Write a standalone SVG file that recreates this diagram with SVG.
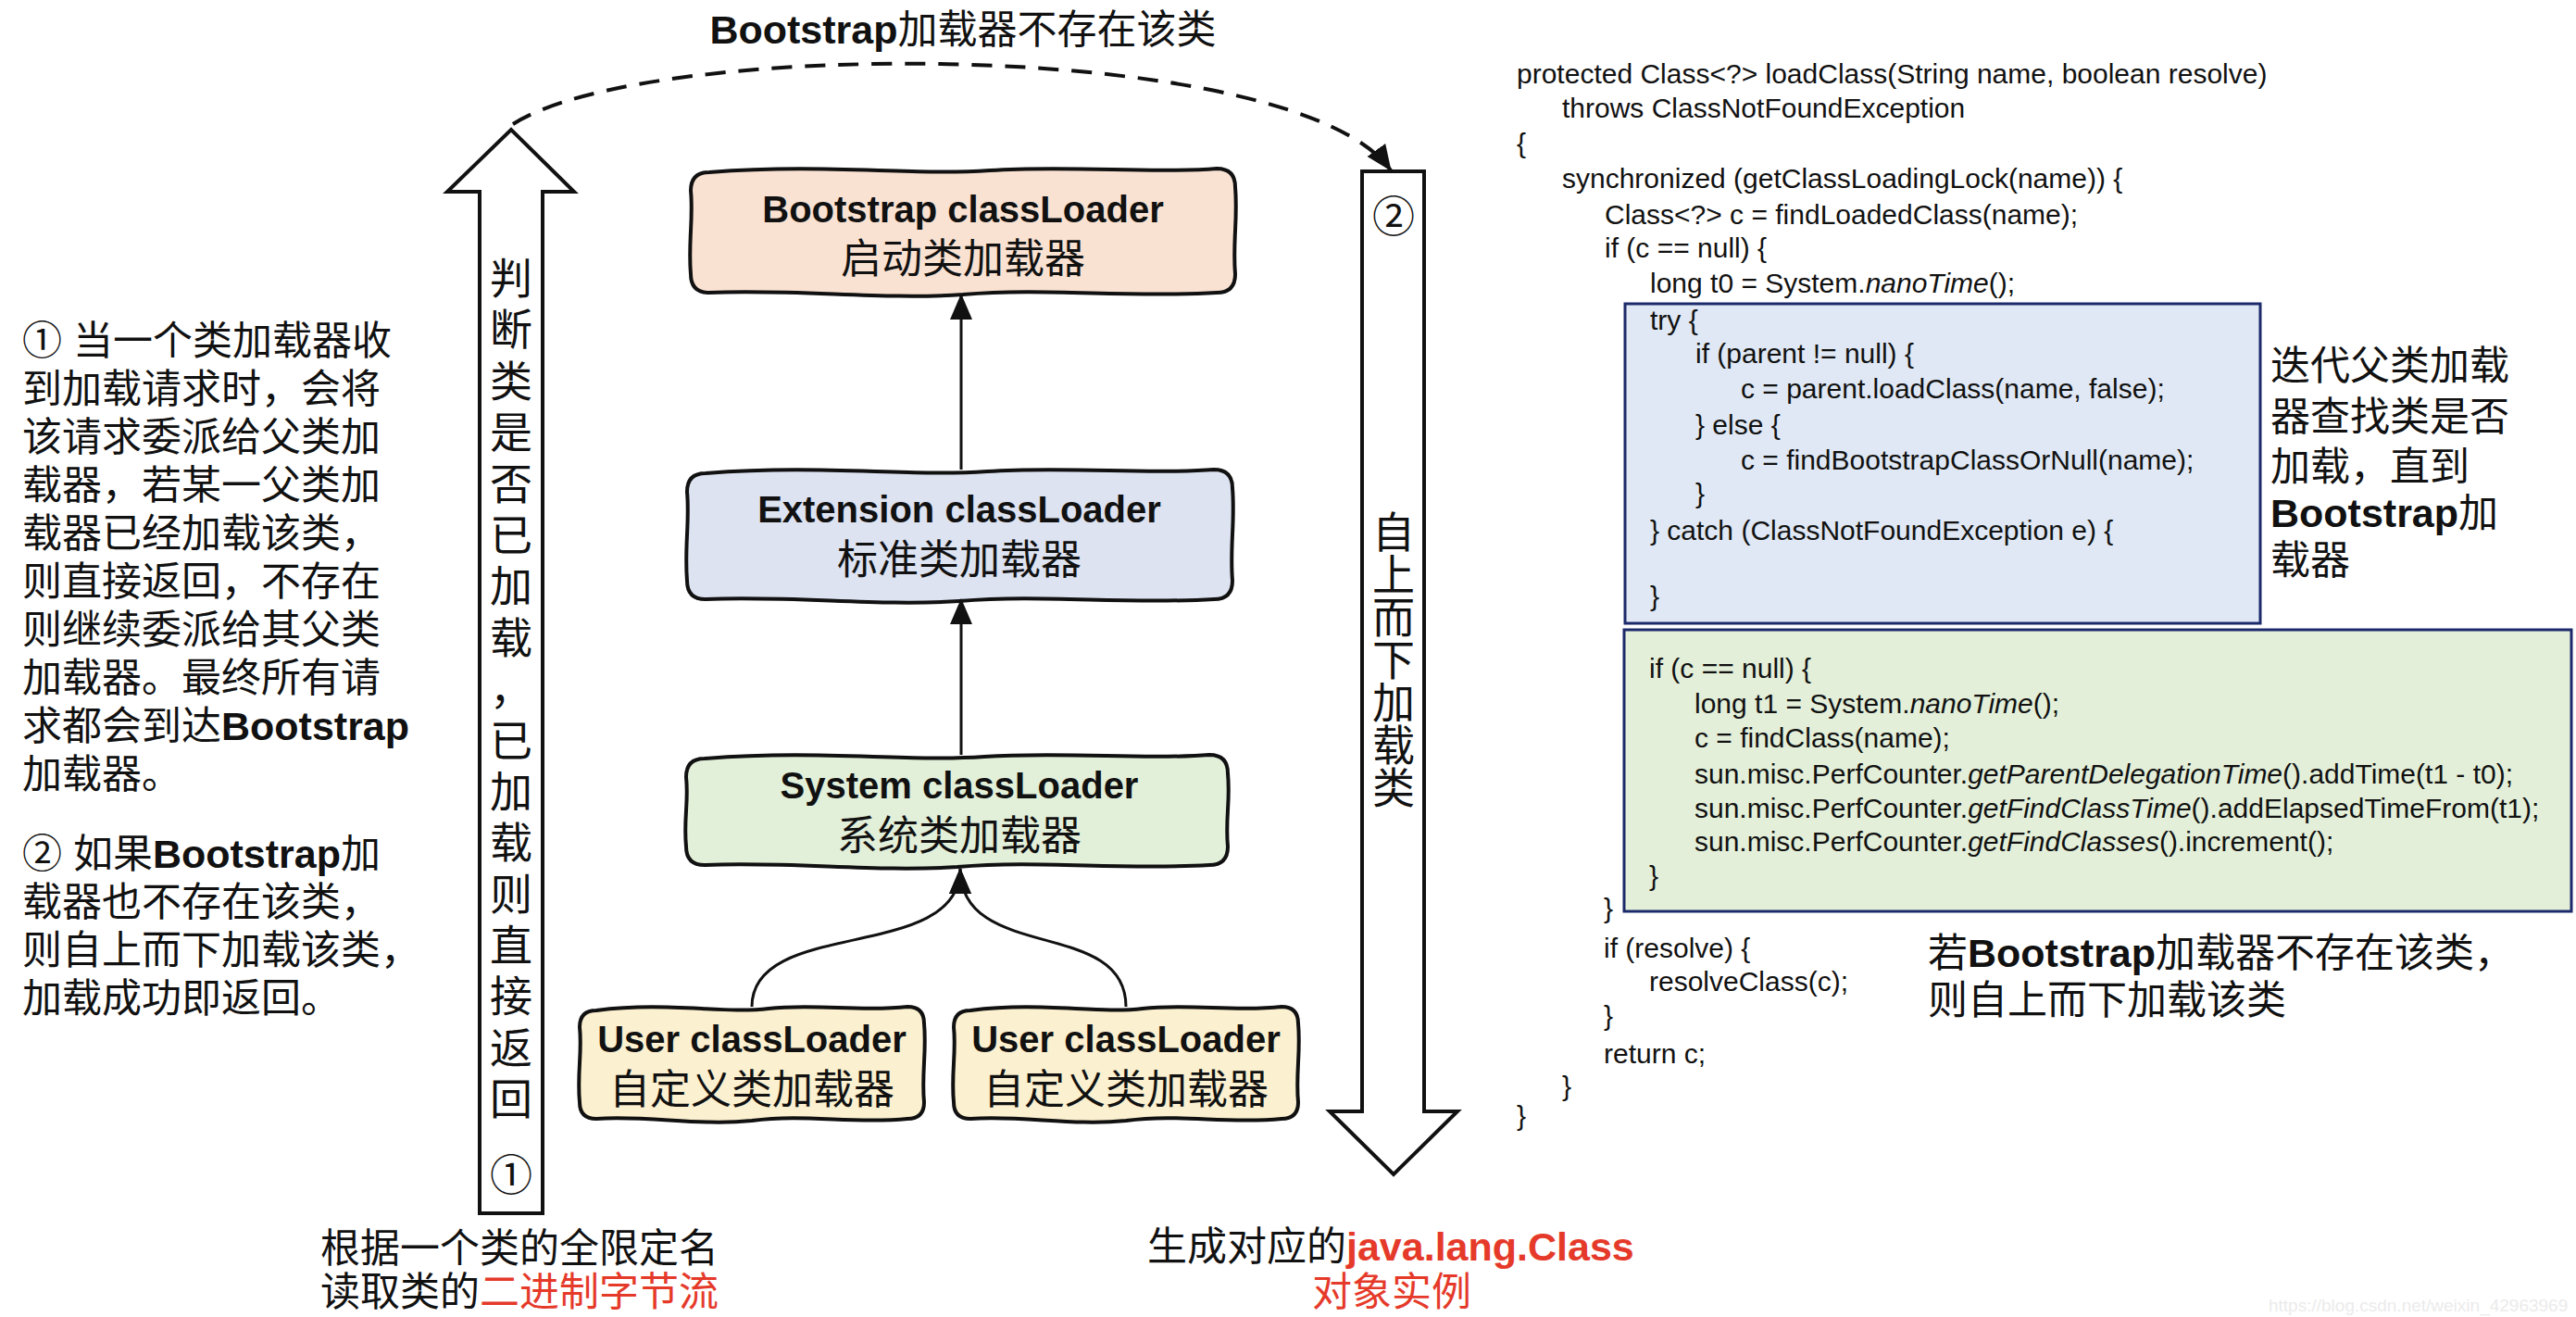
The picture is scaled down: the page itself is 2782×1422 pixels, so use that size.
<svg xmlns="http://www.w3.org/2000/svg" width="2782" height="1422" viewBox="0 0 2782 1422">
<defs>
<style>
.bg{fill:#ffffff}
.node{stroke:#111;stroke-width:4;stroke-linejoin:round}
.lbl{fill:#111;text-anchor:middle}
.en{font-family:"Liberation Sans","Noto Sans CJK SC",sans-serif;font-weight:bold;font-size:40px}
.cnl{font-family:"Noto Sans CJK SC",sans-serif;font-weight:normal;font-size:44px}
.para{font-family:"Liberation Sans","Noto Sans CJK SC",sans-serif;font-size:43px;fill:#111}
.b{font-family:"Liberation Sans",sans-serif;font-weight:bold}
.code{font-family:"Liberation Sans",sans-serif;font-size:30px;fill:#111}
.it{font-style:italic}
.red{fill:#e53a2a}
.big{fill:#fff;stroke:#111;stroke-width:4;stroke-linejoin:miter}
.vcol{font-family:"Noto Sans CJK SC",sans-serif;font-size:46px;fill:#111;text-anchor:middle}
.box{stroke:#1c2a6b;stroke-width:3}
</style>
<marker id="ah" markerUnits="userSpaceOnUse" markerWidth="28" markerHeight="24" viewBox="0 0 28 24" refX="27" refY="12" orient="auto">
<path d="M0,0 L28,12 L0,24 z" fill="#111"/>
</marker>
</defs>
<rect class="bg" x="0" y="0" width="2782" height="1422"/>

<!-- title -->
<text x="1040" y="47" class="para" text-anchor="middle" font-size="42"><tspan class="b">Bootstrap</tspan>加载器不存在该类</text>

<!-- left paragraph -->
<g id="left-notes" class="para">
<text x="24" y="383">① 当一个类加载器收</text>
<text x="24" y="435">到加载请求时，会将</text>
<text x="24" y="487">该请求委派给父类加</text>
<text x="24" y="539">载器，若某一父类加</text>
<text x="24" y="591">载器已经加载该类，</text>
<text x="24" y="643">则直接返回，不存在</text>
<text x="24" y="695">则继续委派给其父类</text>
<text x="24" y="747">加载器。最终所有请</text>
<text x="24" y="799">求都会到达<tspan class="b">Bootstrap</tspan></text>
<text x="24" y="851">加载器。</text>
<text x="24" y="937">② 如果<tspan class="b">Bootstrap</tspan>加</text>
<text x="24" y="989">载器也不存在该类，</text>
<text x="24" y="1041">则自上而下加载该类，</text>
<text x="24" y="1093">加载成功即返回。</text>
</g>

<!-- big hollow up arrow -->
<g id="arrow-up">
<polygon class="big" points="518,1310 518,207 483,207 552,140 620,207 586,207 586,1310"/>
<text class="vcol" x="552 552 552 552 552 552 552 552 552 552 552 552 552 552 552 552 552" y="317 372 428 483 539 594 649 705 760 816 871 926 982 1037 1092 1148 1203">判断类是否已加载，已加载则直接返回</text>
<text class="vcol" x="552" y="1285">①</text>
</g>

<!-- big hollow down arrow -->
<g id="arrow-down">
<polygon class="big" points="1471,185 1538,185 1538,1200 1574,1200 1505,1268 1436,1200 1471,1200"/>
<text class="vcol" x="1505" y="250" font-size="44">②</text>
<text class="vcol" font-size="44" x="1505 1505 1505 1505 1505 1505 1505" y="591 637 683 729 775 821 867">自上而下加载类</text>
</g>

<!-- nodes -->
<g id="node-bootstrap">
<path class="node" fill="#f9e2d2" d="M766,186 C893,176 981,190 1069,184 C1157,178 1246,188 1314,182 Q1334,182 1334,202 C1337,236 1331,262 1334,296 Q1334,316 1314,316 C1216,322 1128,310 1040,318 C952,324 864,312 766,316 Q746,316 746,296 C743,262 749,236 746,206 Q746,186 766,186 Z"/>
<text class="lbl"><tspan class="en" x="1040" y="240">Bootstrap classLoader</tspan><tspan class="cnl" x="1040" y="295">启动类加载器</tspan></text>
</g>
<g id="node-extension">
<path class="node" fill="#dde3f1" d="M762,511 C889,501 977,515 1066,509 C1154,503 1243,513 1311,507 Q1331,507 1331,527 C1334,563 1328,591 1331,627 Q1331,647 1311,647 C1213,653 1125,641 1036,649 C948,655 860,643 762,647 Q742,647 742,627 C739,591 745,563 742,531 Q742,511 762,511 Z"/>
<text class="lbl"><tspan class="en" x="1036" y="564">Extension classLoader</tspan><tspan class="cnl" x="1036" y="620">标准类加载器</tspan></text>
</g>
<g id="node-system">
<path class="node" fill="#e2efd9" d="M761,819 C887,809 975,823 1063,817 C1151,811 1239,821 1306,815 Q1326,815 1326,835 C1329,866 1323,884 1326,914 Q1326,934 1306,934 C1209,940 1121,928 1034,936 C946,942 858,930 761,934 Q741,934 741,914 C738,884 744,866 741,839 Q741,819 761,819 Z"/>
<text class="lbl"><tspan class="en" x="1036" y="862">System classLoader</tspan><tspan class="cnl" x="1036" y="918">系统类加载器</tspan></text>
</g>
<g id="node-user1">
<path class="node" fill="#fbf0cf" d="M644,1091 C720,1081 780,1095 830,1089 C880,1083 930,1093 980,1087 Q998,1087 998,1105 C1001,1135 995,1160 998,1190 Q998,1208 980,1208 C920,1214 870,1202 812,1210 C754,1216 700,1204 644,1208 Q626,1208 626,1190 C623,1160 629,1135 626,1109 Q626,1091 644,1091 Z"/>
<text class="lbl"><tspan class="en" x="812" y="1136">User classLoader</tspan><tspan class="cnl" x="812" y="1192">自定义类加载器</tspan></text>
</g>
<g id="node-user2">
<path class="node" fill="#fbf0cf" d="M1048,1091 C1124,1081 1184,1095 1234,1089 C1284,1083 1334,1093 1384,1087 Q1402,1087 1402,1105 C1405,1135 1399,1160 1402,1190 Q1402,1208 1384,1208 C1324,1214 1274,1202 1216,1210 C1158,1216 1104,1204 1048,1208 Q1030,1208 1030,1190 C1027,1160 1033,1135 1030,1109 Q1030,1091 1048,1091 Z"/>
<text class="lbl"><tspan class="en" x="1216" y="1136">User classLoader</tspan><tspan class="cnl" x="1216" y="1192">自定义类加载器</tspan></text>
</g>

<!-- connectors -->
<g id="connectors" fill="none" stroke="#111" stroke-width="3">
<path d="M1038,507 L1038,318" marker-end="url(#ah)"/>
<path d="M1038,815 L1038,647" marker-end="url(#ah)"/>
<path d="M812,1087 C812,990 1037,1040 1037,938" marker-end="url(#ah)"/>
<path d="M1216,1087 C1216,990 1037,1040 1037,938" marker-end="url(#ah)"/>
<path d="M554,134 C700,40 1400,40 1502,184" stroke-width="4" stroke-dasharray="22 14" marker-end="url(#ah)"/>
</g>

<!-- bottom captions -->
<g id="caption-left" class="para" font-size="42">
<text x="346" y="1363">根据一个类的全限定名</text>
<text x="346" y="1410">读取类的<tspan class="red">二进制字节流</tspan></text>
</g>
<g id="caption-right" class="para" font-size="42">
<text x="1239" y="1361">生成对应的<tspan class="b red" font-size="43">java.lang.Class</tspan></text>
<text x="1417" y="1410" class="red">对象实例</text>
</g>

<!-- code -->
<g id="code-highlights">
<rect class="box" x="1755" y="328" width="686" height="345" fill="#dfe8f4"/>
<rect class="box" x="1754" y="680" width="1023" height="304" fill="#e3efd9"/>
</g>
<g id="code" class="code">
<text x="1638" y="90">protected Class&lt;?&gt; loadClass(String name, boolean resolve)</text>
<text x="1687" y="127">throws ClassNotFoundException</text>
<text x="1638" y="165">{</text>
<text x="1687" y="203">synchronized (getClassLoadingLock(name)) {</text>
<text x="1733" y="242">Class&lt;?&gt; c = findLoadedClass(name);</text>
<text x="1733" y="278">if (c == null) {</text>
<text x="1782" y="316">long t0 = System.<tspan class="it">nanoTime</tspan>();</text>
<text x="1782" y="356">try {</text>
<text x="1831" y="392">if (parent != null) {</text>
<text x="1880" y="430">c = parent.loadClass(name, false);</text>
<text x="1831" y="469">} else {</text>
<text x="1880" y="507">c = findBootstrapClassOrNull(name);</text>
<text x="1831" y="543">}</text>
<text x="1782" y="583">} catch (ClassNotFoundException e) {</text>
<text x="1782" y="654">}</text>
<text x="1781" y="732">if (c == null) {</text>
<text x="1830" y="770">long t1 = System.<tspan class="it">nanoTime</tspan>();</text>
<text x="1830" y="807">c = findClass(name);</text>
<text x="1830" y="846">sun.misc.PerfCounter.<tspan class="it">getParentDelegationTime</tspan>().addTime(t1 - t0);</text>
<text x="1830" y="883">sun.misc.PerfCounter.<tspan class="it">getFindClassTime</tspan>().addElapsedTimeFrom(t1);</text>
<text x="1830" y="919">sun.misc.PerfCounter.<tspan class="it">getFindClasses</tspan>().increment();</text>
<text x="1781" y="956">}</text>
<text x="1732" y="991">}</text>
<text x="1732" y="1034">if (resolve) {</text>
<text x="1781" y="1070">resolveClass(c);</text>
<text x="1732" y="1107">}</text>
<text x="1732" y="1148">return c;</text>
<text x="1687" y="1183">}</text>
<text x="1638" y="1215">}</text>
</g>

<!-- right annotations -->
<g id="note-iterate" class="para" font-size="44">
<text x="2452" y="410">迭代父类加载</text>
<text x="2452" y="465">器查找类是否</text>
<text x="2452" y="519">加载，直到</text>
<text x="2452" y="569"><tspan class="b">Bootstrap</tspan>加</text>
<text x="2452" y="620">载器</text>
</g>
<g id="note-topdown" class="para" font-size="44">
<text x="2082" y="1044">若<tspan class="b">Bootstrap</tspan>加载器不存在该类，</text>
<text x="2082" y="1095">则自上而下加载该类</text>
</g>

<text x="2450" y="1416" font-family="Liberation Sans, sans-serif" font-size="19" fill="#ebebeb">https://blog.csdn.net/weixin_42963969</text>
</svg>
